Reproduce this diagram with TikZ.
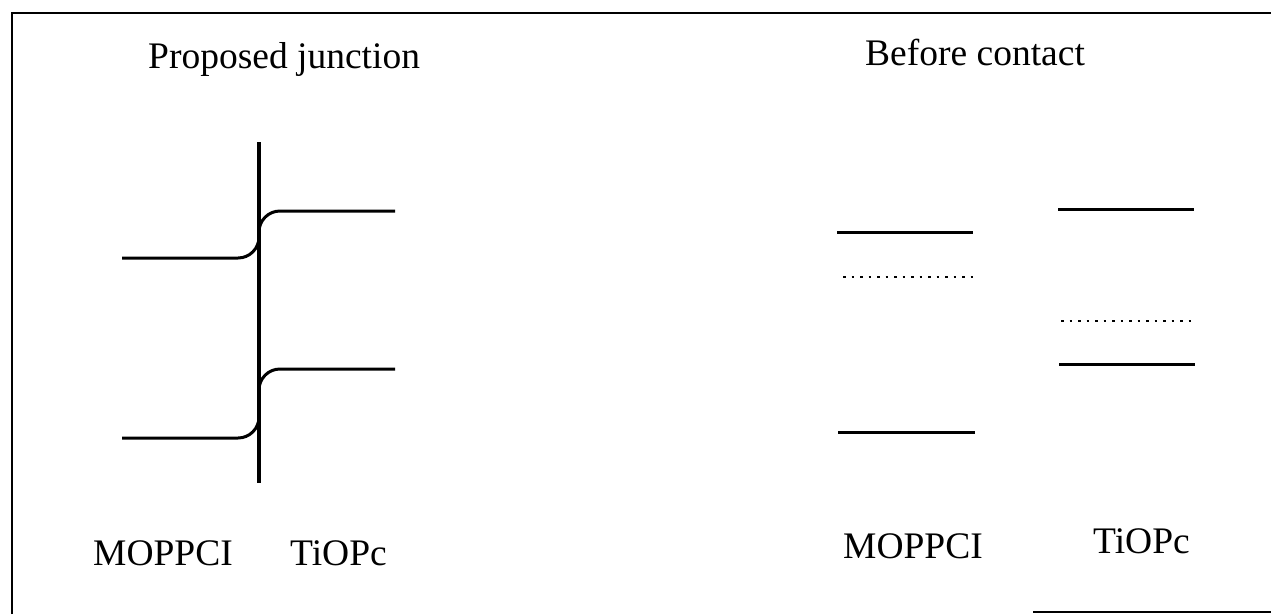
\documentclass[tikz,border=0pt]{standalone}
\usepackage{fontspec}
\setmainfont{Liberation Serif}
\tikzset{
  lbl/.style={font=\fontsize{37.5}{40}\selectfont, inner sep=0pt, anchor=base west},
  level/.style={line width=3pt},
  fermi/.style={line width=2.8pt, dash pattern=on 2.6pt off 5.9pt},
  frame/.style={line width=2pt},
  iface/.style={line width=3.5pt},
}
\begin{document}
\begin{tikzpicture}[x=1pt,y=-1pt]
\useasboundingbox (0,0) rectangle (1271,614);
% frame
\draw[frame] (12,614) -- (12,13) -- (1271,13);
\draw[frame] (1033,612) -- (1271,612);
% titles
\node[lbl] (t1) at (148,68) {Proposed junction};
\node[lbl] (t2) at (865,65) {Before contact};
% junction
\draw[iface] (259,142) -- (259,483);
\draw[level, rounded corners=21pt] (122,258) -| (259,234) |- (395,211);
\draw[level, rounded corners=21pt] (122,438) -| (259,403) |- (395,369);
% before contact levels
\draw[level] (837,232) -- (973,232);
\draw[fermi] (843,277) -- (973,277);
\draw[level] (838,432) -- (975,432);
\draw[level] (1058,209) -- (1194,209);
\draw[fermi] (1061,321) -- (1192,321);
\draw[level] (1059,364) -- (1195,364);
% labels
\node[lbl] (m1) at (93,565) {MOPPCI};
\node[lbl] (p1) at (290,565) {TiOPc};
\node[lbl] (m2) at (843,558) {MOPPCI};
\node[lbl] (p2) at (1093,553) {TiOPc};
\end{tikzpicture}
\end{document}
